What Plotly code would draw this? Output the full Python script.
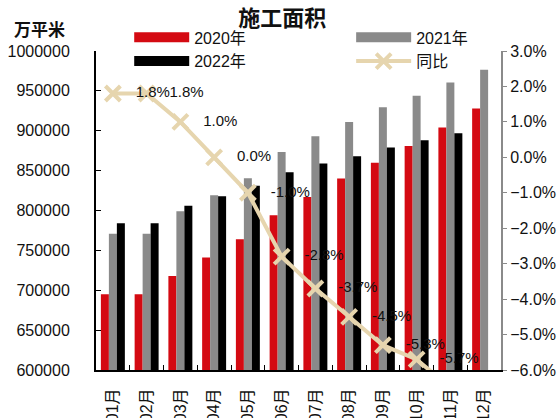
import plotly.graph_objects as go

# Monthly floor space under construction (10k m²) and year-on-year change
months = ["01月", "02月", "03月", "04月", "05月", "06月",
          "07月", "08月", "09月", "10月", "11月", "12月"]
area_2020 = [695000, 695000, 718000, 741000, 764000, 794000,
             817000, 840000, 860000, 881000, 904000, 928000]
area_2021 = [771000, 771000, 799000, 819000, 840500, 873500,
             893000, 911000, 929500, 944000, 960500, 976500]
area_2022 = [784000, 784000, 806000, 818000, 831000, 848000,
             859000, 868000, 879000, 888000, 897000, None]
yoy = [1.8, 1.8, 1.0, 0.0, -1.0, -2.8, -3.7, -4.5, -5.3, -5.7, -6.5, None]

left_ticks = [600000, 650000, 700000, 750000, 800000, 850000, 900000, 950000, 1000000]
right_ticks = [3, 2, 1, 0, -1, -2, -3, -4, -5, -6]
right_labels = ["3.0%", "2.0%", "1.0%", "0.0%", "−1.0%", "−2.0%",
                "−3.0%", "−4.0%", "−5.0%", "−6.0%"]

RED = "#D40A12"
GRAY = "#8A8A8A"
BLACK = "#000000"
TAN = "#E6D5AE"
FONT = "Liberation Sans, Arial, Noto Sans CJK SC, sans-serif"
PAD = "\u00a0" * 3  # gap between a marker and its value label
AREA_RANGE = [600000, 1000000]

fig = go.Figure()

for name, vals, col in [("2020年", area_2020, RED),
                        ("2021年", area_2021, GRAY),
                        ("2022年", area_2022, BLACK)]:
    fig.add_trace(go.Bar(x=months, y=vals, name=name, marker_color=col,
                         marker_line_width=0, showlegend=False))

# transparent points that tie the label axis (y3) to the area scale
fig.add_trace(go.Scatter(x=months, y=area_2021, yaxis="y3", mode="markers",
                         marker=dict(opacity=0, size=1), hoverinfo="skip",
                         showlegend=False))

# legend swatches drawn as wide strokes, split over two legend columns
for name, col, lg, rank in [("2020年", RED, "legend", 1),
                            ("2022年", BLACK, "legend", 2),
                            ("2021年", GRAY, "legend2", 1)]:
    fig.add_trace(go.Scatter(x=[None], y=[None], mode="lines", name=name,
                             line=dict(color=col, width=10), legend=lg, legendrank=rank))

fig.add_trace(go.Scatter(
    x=months, y=yoy, name="同比", yaxis="y2", legend="legend2", legendrank=2,
    mode="lines+markers+text",
    line=dict(color=TAN, width=4),
    marker=dict(symbol="x-thin", size=15, line=dict(color=TAN, width=4), color=TAN),
    text=[PAD + f"{v:.1f}%" if v is not None else "" for v in yoy],
    textposition="middle right",
    textfont=dict(size=15, color="#111111", family=FONT),
    cliponaxis=True,
))

legend_style = dict(yanchor="top", xanchor="left", itemwidth=55, tracegroupgap=0,
                    font=dict(size=16, family=FONT), bgcolor="rgba(0,0,0,0)",
                    itemclick=False, itemdoubleclick=False)

fig.update_layout(
    width=559, height=418,
    margin=dict(l=96, r=58, t=51, b=48, autoexpand=False),
    paper_bgcolor="white", plot_bgcolor="white",
    font=dict(family=FONT, size=16, color="#111111"),
    barmode="group", bargap=0.29, bargroupgap=0,
    title=dict(text="<b>施工面积</b>", x=0.505, xanchor="center", y=0.957, yanchor="middle",
               font=dict(size=22, family="Noto Sans CJK SC", color="#111111")),
    legend=dict(x=0.082, y=1.096, **legend_style),
    legend2=dict(x=0.63, y=1.096, **legend_style),
    xaxis=dict(
        type="category", showgrid=False, showline=True, linecolor="black", linewidth=2,
        ticks="inside", ticklen=5, tickcolor="black", tickson="boundaries",
        tickangle=-90, tickfont=dict(size=16, family=FONT), automargin=False,
        ticklabelstandoff=10, range=[-0.5, 11.5],
    ),
    # primary area axis: line and inside ticks only
    yaxis=dict(
        range=AREA_RANGE, tickvals=left_ticks, showticklabels=False,
        showgrid=False, showline=True, linecolor="black", linewidth=2,
        ticks="inside", ticklen=5, tickcolor="black",
        zeroline=False, automargin=False,
    ),
    # same scale, carrying the labels set further away from the axis line
    yaxis3=dict(
        overlaying="y", side="left", anchor="x", range=AREA_RANGE,
        tickvals=left_ticks, tickformat="d",
        showgrid=False, showline=False, zeroline=False,
        ticks="outside", ticklen=22, tickcolor="rgba(0,0,0,0)",
        tickfont=dict(size=16, family=FONT), automargin=False,
    ),
    yaxis2=dict(
        overlaying="y", side="right", range=[-6, 3],
        tickvals=right_ticks, ticktext=right_labels,
        showgrid=False, showline=True, linecolor="#8A8A8A", linewidth=2,
        ticks="outside", ticklen=4, tickcolor="#8A8A8A",
        tickfont=dict(size=16, family=FONT), zeroline=False, automargin=False,
    ),
    annotations=[dict(text="<b>万平米</b>", xref="paper", yref="paper",
                      x=-0.207, y=1.07, xanchor="left", yanchor="middle",
                      showarrow=False, font=dict(size=17, family="Noto Sans CJK SC"))],
)

fig.write_html("out.html")
